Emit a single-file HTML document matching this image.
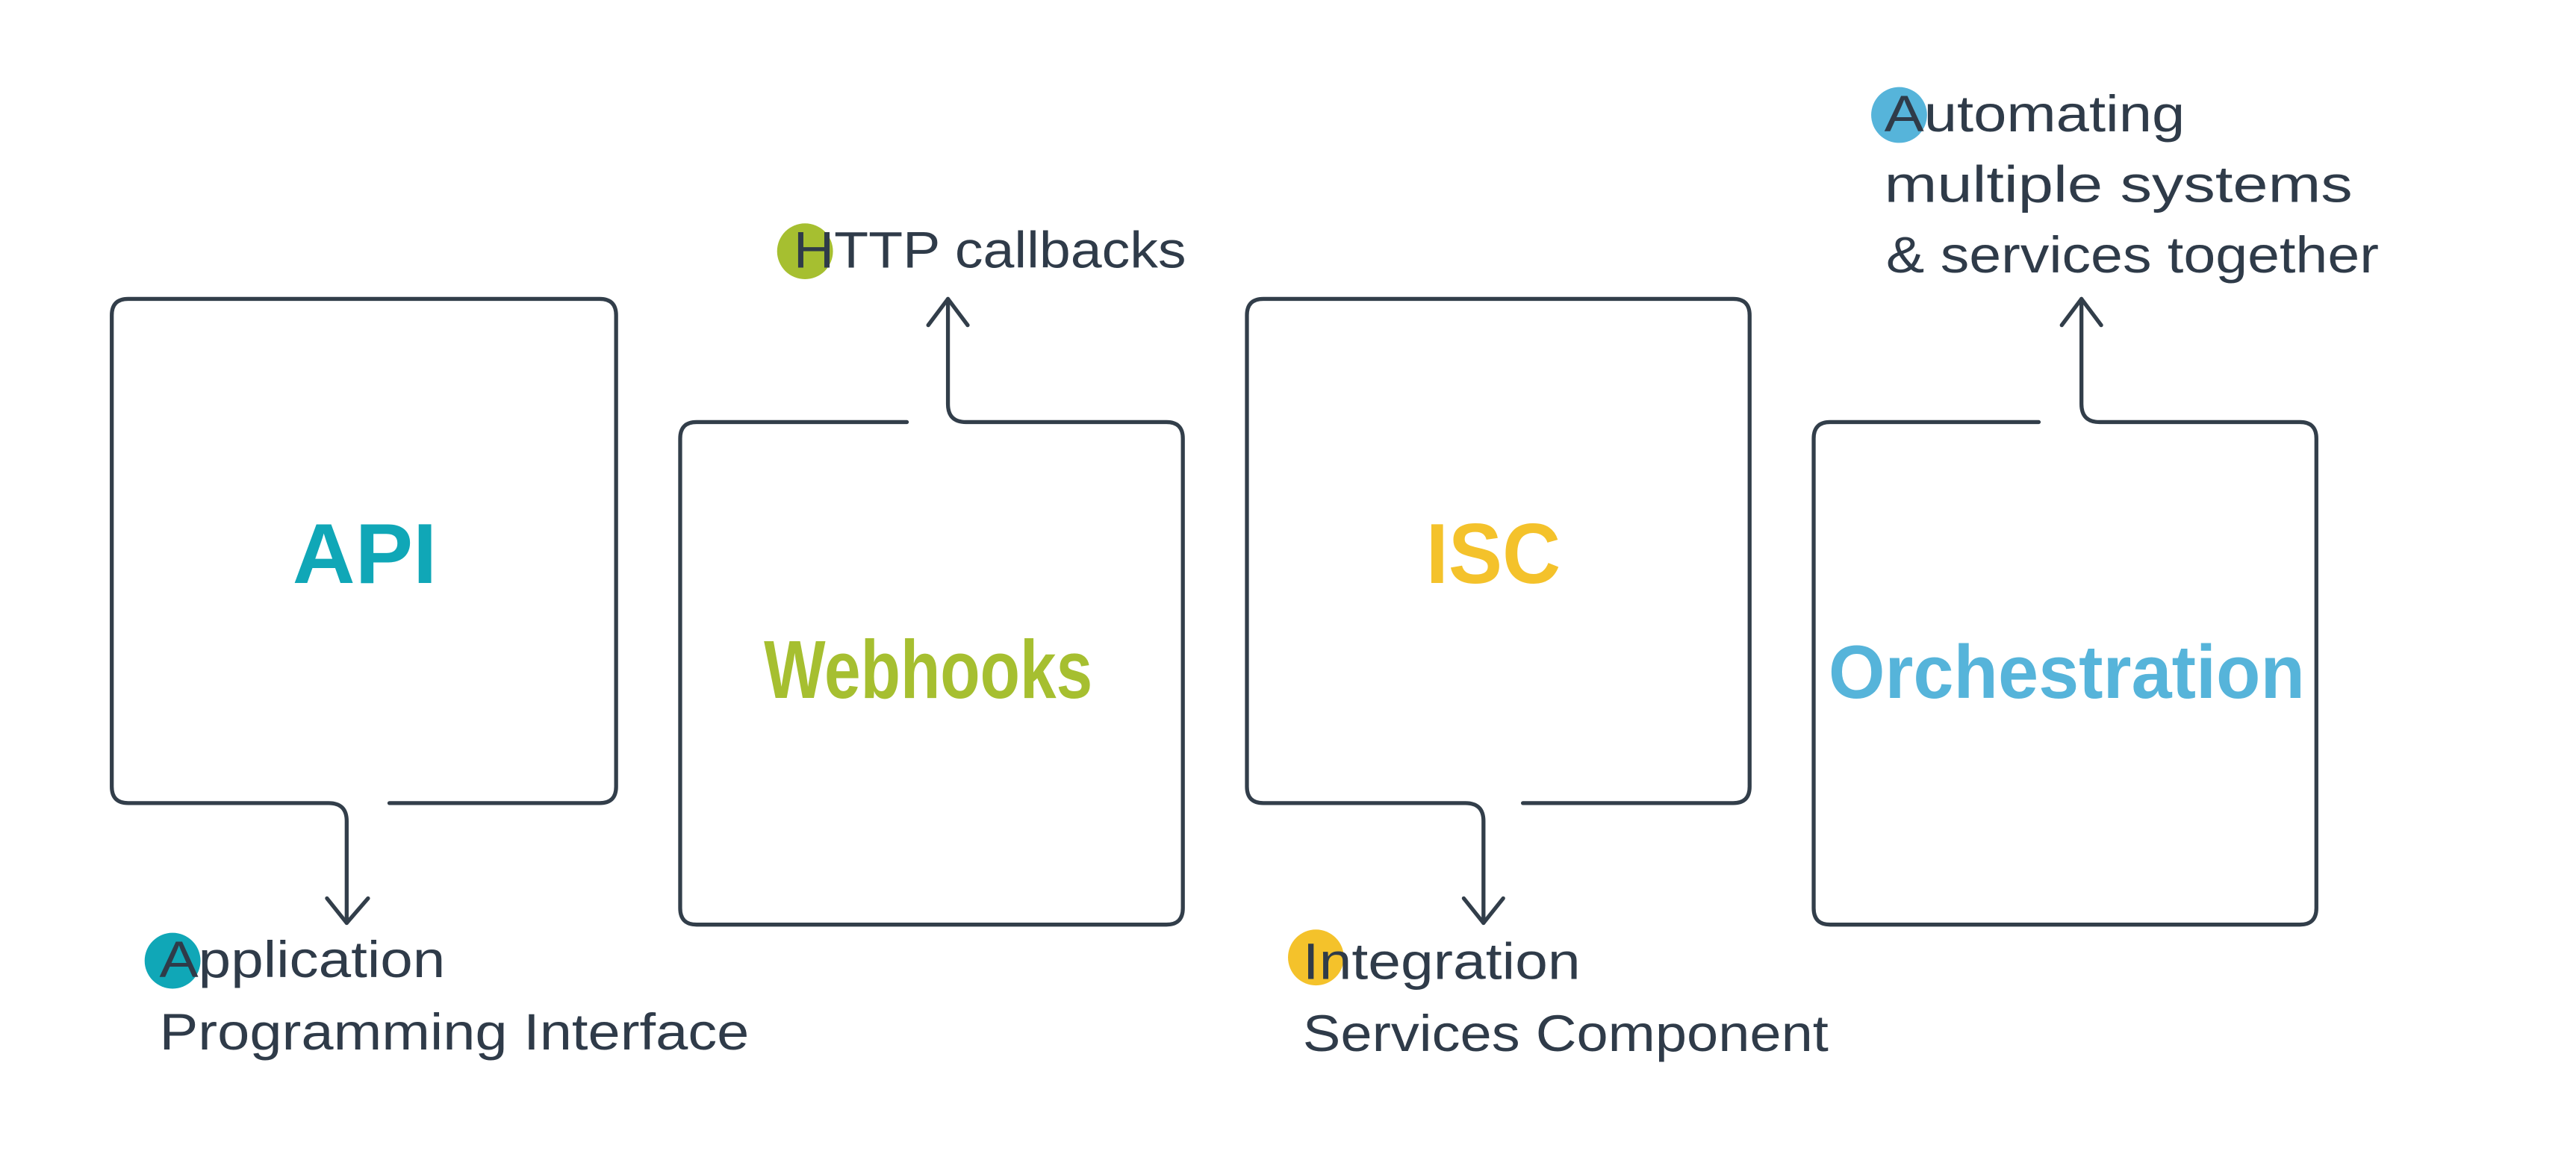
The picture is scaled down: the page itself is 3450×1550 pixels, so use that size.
<!DOCTYPE html>
<html><head><meta charset="utf-8"><style>
html,body{margin:0;padding:0;background:#fff;}
svg{display:block;}
</style></head><body>
<svg width="3450" height="1550" viewBox="0 0 1568 704.5" xmlns="http://www.w3.org/2000/svg">
<rect width="1568" height="704.5" fill="#fff"/>
<g fill="none" stroke="#323e4a" stroke-width="2.4" stroke-linecap="round" stroke-linejoin="round">
<path d="M237,489 L365,489 Q375,489 375,479 L375,192 Q375,182 365,182 L78,182 Q68,182 68,192 L68,479 Q68,489 78,489 L200,489 Q211,489 211,500 L211,562"/>
<path d="M199,547 L211,562 L224,547"/>
<path d="M552,257 L424,257 Q414,257 414,267 L414,553 Q414,563 424,563 L710,563 Q720,563 720,553 L720,267 Q720,257 710,257 L588,257 Q577,257 577,246 L577,182"/>
<path d="M565,198 L577,182 L589,198"/>
<path d="M927,489 L1055,489 Q1065,489 1065,479 L1065,192 Q1065,182 1055,182 L769,182 Q759,182 759,192 L759,479 Q759,489 769,489 L892,489 Q903,489 903,500 L903,562"/>
<path d="M891,547 L903,562 L915,547"/>
<path d="M1241,257 L1114,257 Q1104,257 1104,267 L1104,553 Q1104,563 1114,563 L1400,563 Q1410,563 1410,553 L1410,267 Q1410,257 1400,257 L1278,257 Q1267,257 1267,246 L1267,182"/>
<path d="M1255,198 L1267,182 L1279,198"/>
</g>
<g font-family="'Liberation Sans Narrow','Liberation Sans',sans-serif" font-weight="bold">
<text x="178" y="355" font-size="52" fill="#10a7b7" textLength="88" lengthAdjust="spacingAndGlyphs">API</text>
<text x="465" y="425" font-size="50" fill="#a6bf30" textLength="200" lengthAdjust="spacingAndGlyphs">Webhooks</text>
<text x="868" y="355" font-size="52" fill="#f4c22b" textLength="82" lengthAdjust="spacingAndGlyphs">ISC</text>
<text x="1113" y="425" font-size="46" fill="#56b4da" textLength="290" lengthAdjust="spacingAndGlyphs">Orchestration</text>
</g>
<circle cx="105" cy="585" r="17" fill="#10a7b7"/>
<circle cx="490" cy="153" r="17" fill="#a6bf30"/>
<circle cx="801" cy="583" r="17" fill="#f4c22b"/>
<circle cx="1156" cy="70" r="17" fill="#56b4da"/>
<g font-family="'Liberation Sans',sans-serif" font-size="31" fill="#2f3b49" lengthAdjust="spacingAndGlyphs">
<text x="97" y="595" textLength="174" lengthAdjust="spacingAndGlyphs">Application</text>
<text x="97" y="639" textLength="359" lengthAdjust="spacingAndGlyphs">Programming Interface</text>
<text x="483" y="163" textLength="239" lengthAdjust="spacingAndGlyphs">HTTP  callbacks</text>
<text x="793" y="596" textLength="169" lengthAdjust="spacingAndGlyphs">Integration</text>
<text x="793" y="640" textLength="320" lengthAdjust="spacingAndGlyphs">Services Component</text>
<text x="1147" y="80" textLength="183" lengthAdjust="spacingAndGlyphs">Automating</text>
<text x="1147" y="123" textLength="285" lengthAdjust="spacingAndGlyphs">multiple systems</text>
<text x="1148" y="166" textLength="300" lengthAdjust="spacingAndGlyphs">&amp; services together</text>
</g>
</svg>
</body></html>
